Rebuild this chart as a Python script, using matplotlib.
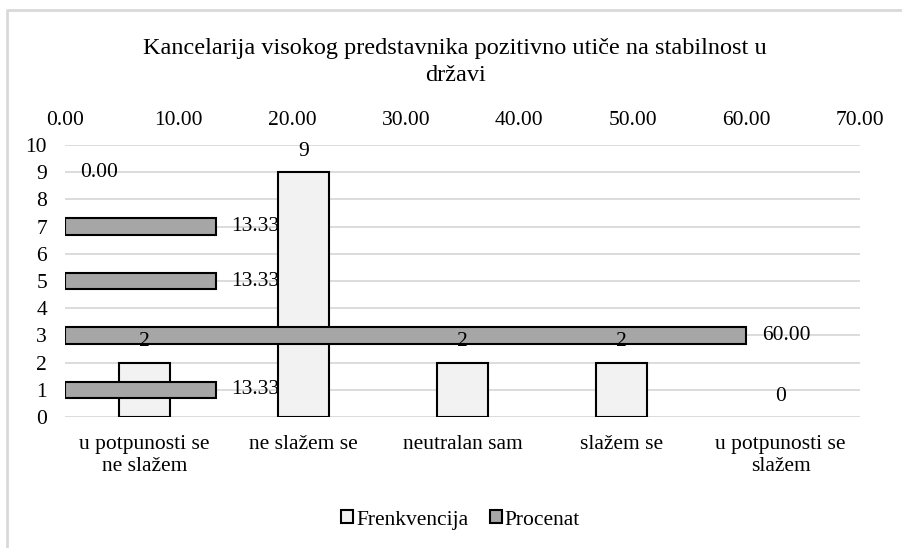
import numpy as np
import matplotlib
matplotlib.use('Agg')
import matplotlib.pyplot as plt
from matplotlib.lines import Line2D
from matplotlib.patches import Patch

plt.rcParams['font.family'] = 'serif'
plt.rcParams['font.serif'] = ['Liberation Serif', 'DejaVu Serif']

# Data
categories = ['u potpunosti se\nne slažem', 'ne slažem se', 'neutralan sam',
              'slažem se', 'u potpunosti se\nslažem']
frekvencija = [2, 9, 2, 2, 0]
procenat = [13.33, 60.00, 13.33, 13.33, 0.00]
title = 'Kancelarija visokog predstavnika pozitivno utiče na stabilnost u\ndržavi'

fig = plt.figure(figsize=(9.03, 5.48), dpi=100)
ax = fig.add_axes([65 / 903, 1 - 417 / 548, 795 / 903, 272 / 548])
ax2 = ax.twiny()

x = np.arange(len(categories))
fs = 15.5

# vertical bars (primary); zero-height bars get no outline
ax.bar(x, frekvencija, width=0.315, color='#f2f2f2', edgecolor='black',
       linewidth=[1.5 if v else 0 for v in frekvencija], zorder=2)
ax.set_xlim(-0.5, len(categories) - 0.5)
ax.set_ylim(0, 10)
ax.set_yticks(range(0, 11))
ax.set_xticks(x)
ax.set_xticklabels(categories, fontsize=fs, linespacing=1.2)
ax.yaxis.grid(True, color='#d9d9d9', linewidth=1.3)
ax.set_axisbelow(True)
ax.tick_params(axis='y', length=0, pad=13, labelsize=fs)
ax.tick_params(axis='x', length=0, pad=13)
for s in ax.spines.values():
    s.set_visible(False)

# horizontal bars (secondary, top axis)
ypos = 2 * np.arange(len(procenat)) + 1
ax2.barh(ypos, procenat, height=0.6, color='#a6a6a6', edgecolor='black',
         linewidth=[1.5 if v else 0 for v in procenat], zorder=2)
ax2.set_xlim(0, 70)
ax2.set_xticks(range(0, 71, 10))
ax2.set_xticklabels(['%.2f' % t for t in range(0, 71, 10)])
ax2.tick_params(axis='x', length=0, pad=11, labelsize=fs)
for s in ax2.spines.values():
    s.set_visible(False)

for yp, v in zip(ypos, procenat):
    ax2.annotate('%.2f' % v, xy=(v, yp), xytext=(11, 0), textcoords='offset points',
                 ha='left', va='center', fontsize=fs)

for xi, v in zip(x, frekvencija):
    ax2.annotate(str(v), xy=(xi, v), xycoords=ax.transData, xytext=(0, 15),
                 textcoords='offset points', ha='center', va='center', fontsize=fs)

fig.text(0.504, 1 - 62 / 548, title, ha='center', va='center', fontsize=17.5, linespacing=1.35)

handles = [Patch(facecolor='#f2f2f2', edgecolor='black', linewidth=1.5),
           Patch(facecolor='#a6a6a6', edgecolor='black', linewidth=1.5)]
fig.legend(handles, ['Frenkvencija', 'Procenat'], loc='center', bbox_to_anchor=(0.51, 1 - 520 / 548),
           ncol=2, frameon=False, fontsize=fs, handlelength=0.55, handleheight=0.55,
           handletextpad=0.15, columnspacing=1.0)

# chart border (top and left visible)
fig.add_artist(Line2D([7 / 903, 7 / 903, 1], [0, 1 - 10 / 548, 1 - 10 / 548],
                      transform=fig.transFigure, color='#d9d9d9', linewidth=2))

fig.savefig('out.png', dpi=100)
